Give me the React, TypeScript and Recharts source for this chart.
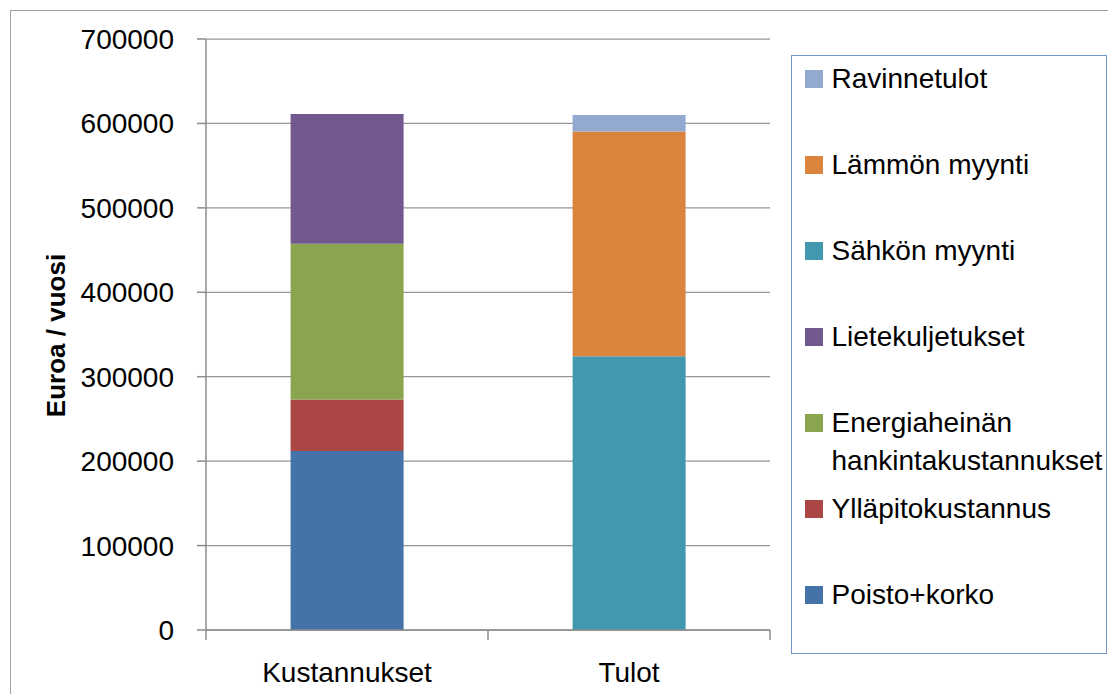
import React from 'react';
import { BarChart, Bar, XAxis, YAxis, CartesianGrid, Legend } from 'recharts';

// categories and series (bottom to top of the stack)
const categories = ['Kustannukset', 'Tulot'];
const poistoKorko = [212000, 0];
const yllapito = [61000, 0];
const energiaheina = [184500, 0];
const lietekuljetukset = [153800, 0];
const sahkonMyynti = [0, 324300];
const lammonMyynti = [0, 266100];
const ravinnetulot = [0, 19700];

const yTicks = [0, 100000, 200000, 300000, 400000, 500000, 600000, 700000];

const series = [
  { key: 'poisto', name: 'Poisto+korko', values: poistoKorko, color: '#4572A7' },
  { key: 'yllapito', name: 'Ylläpitokustannus', values: yllapito, color: '#AA4643' },
  { key: 'energia', name: 'Energiaheinän hankintakustannukset', values: energiaheina, color: '#89A54E' },
  { key: 'liete', name: 'Lietekuljetukset', values: lietekuljetukset, color: '#71588F' },
  { key: 'sahko', name: 'Sähkön myynti', values: sahkonMyynti, color: '#4198AF' },
  { key: 'lampo', name: 'Lämmön myynti', values: lammonMyynti, color: '#DB843D' },
  { key: 'ravinne', name: 'Ravinnetulot', values: ravinnetulot, color: '#93A9CF' },
];

const data = categories.map((name, i) => {
  const row: Record<string, any> = { name };
  series.forEach(s => { row[s.key] = s.values[i]; });
  return row;
});

const FONT = '"Liberation Sans", Arial, sans-serif';
const AXIS_GRAY = '#8c8c8c';

const XTick = (props: any) => {
  const { x, y, payload, index, visibleTicksCount } = props;
  const off = payload.offset || 0;
  return (
    <g>
      <line x1={x - off} x2={x - off} y1={y} y2={y + 10} stroke={AXIS_GRAY} strokeWidth={1.5} />
      {index === visibleTicksCount - 1 && (
        <line x1={x + off} x2={x + off} y1={y} y2={y + 10} stroke={AXIS_GRAY} strokeWidth={1.5} />
      )}
      <text x={x} y={y + 52} textAnchor="middle" fontSize={28} fontFamily={FONT} fill="#000">
        {payload.value}
      </text>
    </g>
  );
};

const YLabel = (props: any) => {
  const { viewBox } = props;
  const cx = viewBox.x + 56;
  const cy = viewBox.y + viewBox.height / 2 + 1;
  return (
    <text
      x={cx}
      y={cy}
      transform={`rotate(-90, ${cx}, ${cy})`}
      textAnchor="middle"
      dominantBaseline="central"
      fontSize={26}
      fontWeight="bold"
      fontFamily={FONT}
      fill="#000"
    >
      Euroa / vuosi
    </text>
  );
};

const LegendBox = () => (
  <div
    style={{
      boxSizing: 'border-box',
      width: 316,
      height: 599,
      border: '1.5px solid #6f95c9',
      paddingTop: 4,
      fontFamily: FONT,
      fontSize: 28,
      color: '#000',
      background: '#fff',
    }}
  >
    {[...series].reverse().map(s => {
      const lines = s.key === 'energia' ? ['Energiaheinän', 'hankintakustannukset'] : [s.name];
      return (
        <div key={s.key} style={{ display: 'flex', alignItems: 'flex-start', height: 86 }}>
          <span
            style={{
              display: 'inline-block',
              width: 18,
              height: 18,
              marginLeft: 12.5,
              marginTop: 10,
              background: s.color,
              flex: 'none',
            }}
          />
          <span style={{ marginLeft: 9, lineHeight: '38px', whiteSpace: 'nowrap' }}>
            {lines.map((l, i) => (
              <div key={i}>{l}</div>
            ))}
          </span>
        </div>
      );
    })}
  </div>
);

export default function App() {
  return (
    <div
      style={{
        position: 'absolute',
        left: 0,
        top: 0,
        width: 1108,
        height: 694,
        overflow: 'hidden',
        background: '#fff',
      }}
    >
      <div
        style={{
          position: 'absolute',
          left: 10,
          top: 10,
          width: 1200,
          height: 800,
          border: '1.5px solid #a0a0a0',
        }}
      />
      <div style={{ position: 'absolute', left: 0, top: 0 }}>
        <BarChart
          width={1108}
          height={694}
          data={data}
          margin={{ top: 39, right: 338, bottom: 24, left: 0 }}
          barCategoryGap="30%"
        >
          <CartesianGrid vertical={false} stroke="#969696" strokeWidth={1.25} />
          <XAxis
            dataKey="name"
            height={40}
            axisLine={{ stroke: AXIS_GRAY, strokeWidth: 1.5 }}
            tickLine={false}
            tickSize={0}
            tickMargin={0}
            interval={0}
            tick={<XTick />}
          />
          <YAxis
            width={206}
            domain={[0, 700000]}
            ticks={yTicks}
            interval={0}
            axisLine={{ stroke: AXIS_GRAY, strokeWidth: 1.5 }}
            tickLine={{ stroke: AXIS_GRAY, strokeWidth: 1.5 }}
            tickSize={9}
            tickMargin={23}
            tick={{ fontSize: 28, fontFamily: FONT, fill: '#000' }}
            label={<YLabel />}
          />
          <Legend
            layout="horizontal"
            align="center"
            verticalAlign="middle"
            wrapperStyle={{ left: 791, top: 55, width: 316, height: 599 }}
            content={<LegendBox />}
          />
          {series.map(s => (
            <Bar
              key={s.key}
              dataKey={s.key}
              name={s.name}
              stackId="a"
              fill={s.color}
              isAnimationActive={false}
            />
          ))}
        </BarChart>
      </div>
    </div>
  );
}
